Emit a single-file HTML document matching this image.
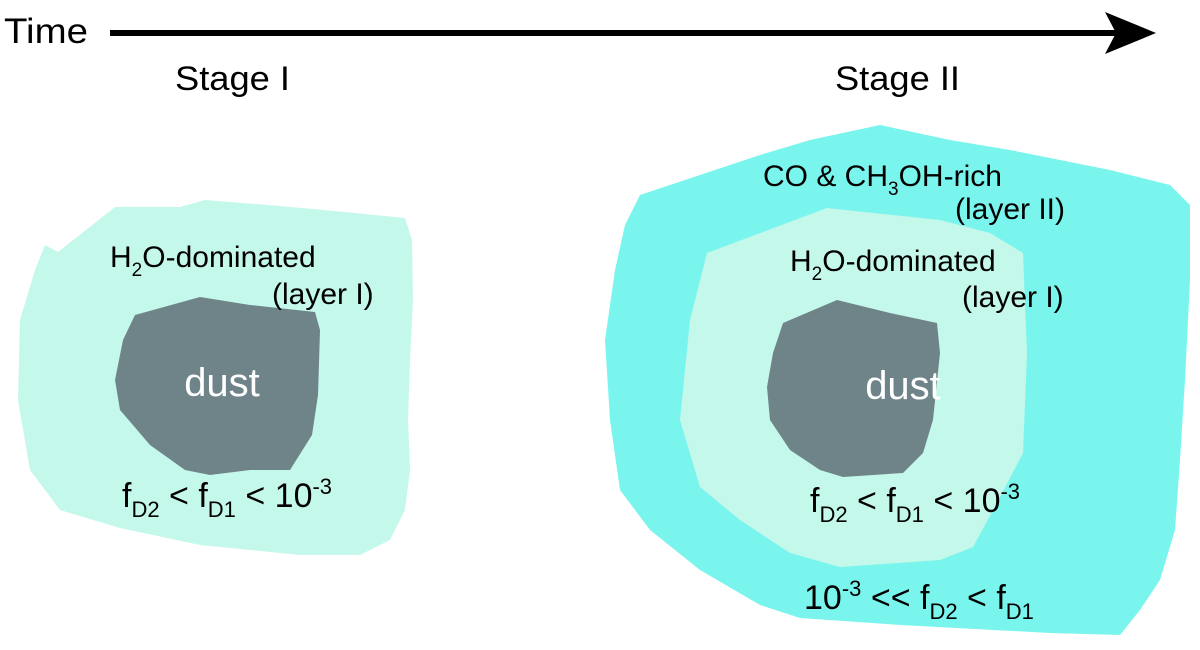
<!DOCTYPE html>
<html><head><meta charset="utf-8"><style>
html,body{margin:0;padding:0;background:#fff;}
svg{display:block;font-family:"Liberation Sans",sans-serif;}
</style></head><body>
<svg width="1200" height="650" viewBox="0 0 1200 650" xmlns="http://www.w3.org/2000/svg">
<text x="4" y="43" font-size="35" fill="#000" textLength="84" lengthAdjust="spacingAndGlyphs">Time</text>
<rect x="110" y="30" width="1010" height="6" fill="#000"/>
<polygon points="1105,12 1156,33 1105,54 1116,33" fill="#000"/>
<text x="175" y="90" font-size="34" fill="#000" textLength="115" lengthAdjust="spacingAndGlyphs">Stage I</text>
<text x="835" y="90" font-size="34" fill="#000" textLength="125" lengthAdjust="spacingAndGlyphs">Stage II</text>

<!-- left -->
<polygon fill="#c4f8eb" points="45,245 58,252 115,207 180,207 205,200 280,206 345,212 405,218 412,240 413,300 410,360 408,420 410,470 405,510 390,540 360,555 300,555 200,545 120,528 60,510 30,470 18,400 20,320 35,270"/>
<polygon fill="#6f8489" points="135,315 200,297 250,305 315,312 320,330 318,395 312,435 290,470 250,470 210,475 185,470 150,445 120,410 115,380 123,340"/>
<text x="110" y="267" font-size="30" fill="#000">H<tspan font-size="19" dy="9">2</tspan><tspan dy="-9">O-dominated</tspan></text>
<text x="272" y="304" font-size="30" fill="#000">(layer I)</text>
<text x="222" y="396" font-size="40" fill="#fff" text-anchor="middle">dust</text>
<text x="122" y="507" font-size="34" fill="#000">f<tspan font-size="22" dy="10">D2</tspan><tspan dy="-10"> &lt; f</tspan><tspan font-size="22" dy="10">D1</tspan><tspan dy="-10"> &lt; 10</tspan><tspan font-size="22" dy="-13">-3</tspan></text>

<!-- right -->
<polygon fill="#7af5ee" points="640,195 700,175 760,155 810,140 880,125 950,140 1010,150 1060,160 1110,170 1170,185 1190,205 1190,280 1185,380 1180,460 1175,530 1160,580 1140,610 1120,635 1050,633 900,625 800,618 760,605 700,570 650,530 620,490 610,420 605,340 615,270 625,225"/>
<polygon fill="#c4f8eb" points="827,208 873,213 940,220 990,233 1023,253 1027,353 1023,453 997,503 973,547 940,560 840,567 790,553 740,520 700,487 680,420 690,320 707,253"/>
<polygon fill="#6f8489" points="783,323 837,300 890,313 937,323 940,353 933,420 923,453 903,473 843,477 820,470 790,450 770,420 767,387 773,353"/>
<text x="763" y="186" font-size="30" fill="#000">CO &amp; CH<tspan font-size="19" dy="9">3</tspan><tspan dy="-9">OH-rich</tspan></text>
<text x="955" y="219" font-size="30" fill="#000">(layer II)</text>
<text x="790" y="271" font-size="30" fill="#000">H<tspan font-size="19" dy="9">2</tspan><tspan dy="-9">O-dominated</tspan></text>
<text x="962" y="307" font-size="30" fill="#000">(layer I)</text>
<text x="903" y="399" font-size="40" fill="#fff" text-anchor="middle">dust</text>
<text x="810" y="512" font-size="34" fill="#000">f<tspan font-size="22" dy="10">D2</tspan><tspan dy="-10"> &lt; f</tspan><tspan font-size="22" dy="10">D1</tspan><tspan dy="-10"> &lt; 10</tspan><tspan font-size="22" dy="-13">-3</tspan></text>
<text x="804" y="609" font-size="34" fill="#000">10<tspan font-size="22" dy="-13">-3</tspan><tspan dy="13"> &lt;&lt; f</tspan><tspan font-size="22" dy="10">D2</tspan><tspan dy="-10"> &lt; f</tspan><tspan font-size="22" dy="10">D1</tspan></text>
</svg>
</body></html>
